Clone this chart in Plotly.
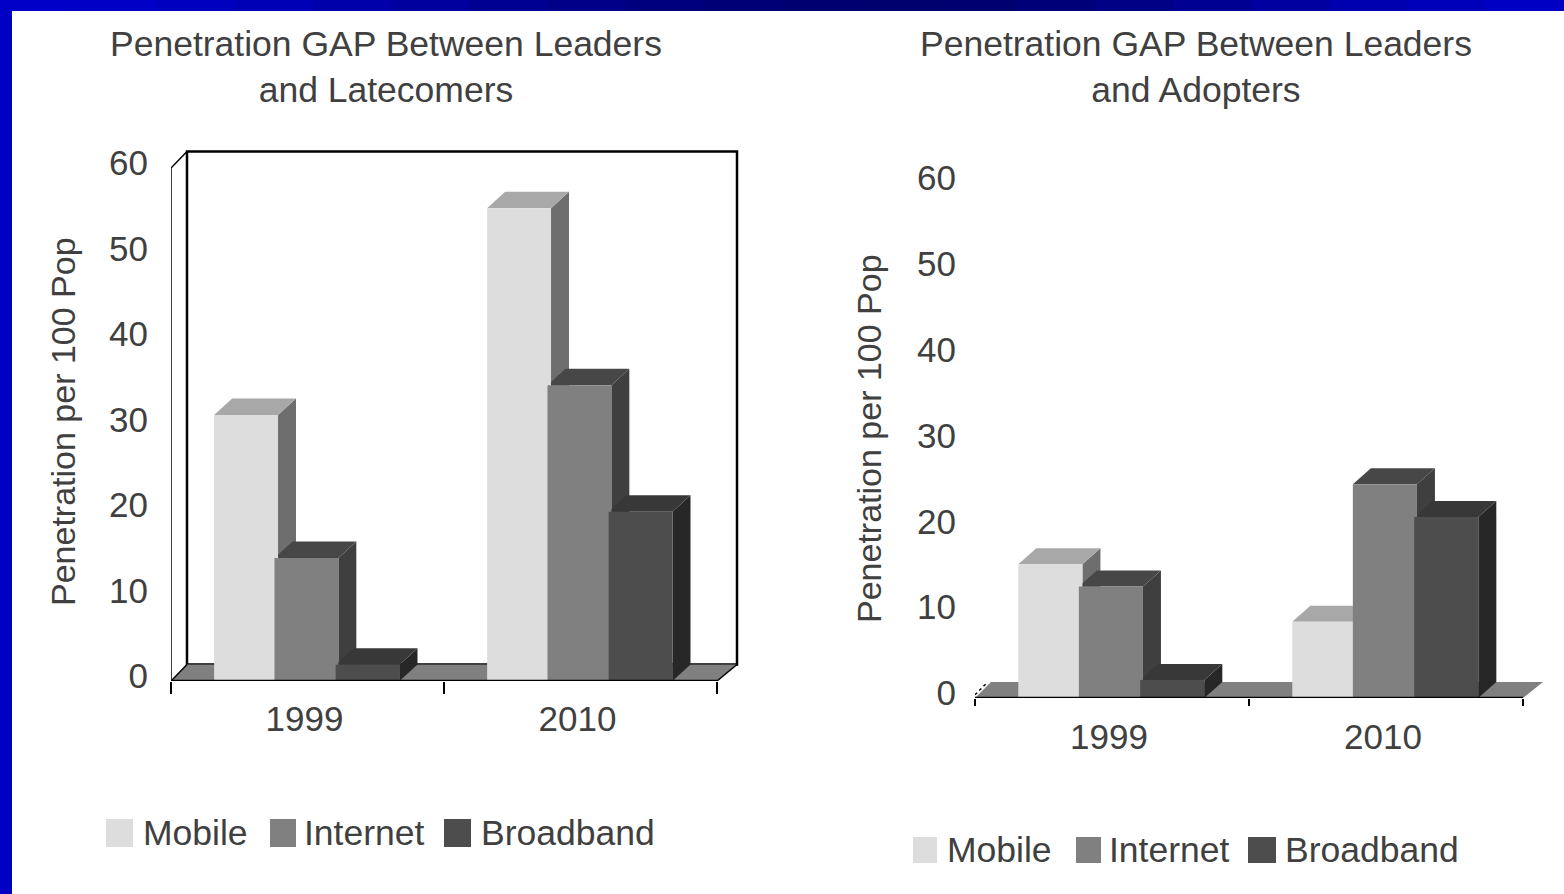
import plotly.graph_objects as go

W, H = 1564, 894
YEARS = ["1999", "2010"]
SERIES = ["Mobile", "Internet", "Broadband"]
LEFT_MOBILE = [31.1, 55.3]
LEFT_INTERNET = [14.4, 34.6]
LEFT_BROADBAND = [1.9, 19.8]
RIGHT_MOBILE = [15.6, 8.9]
RIGHT_INTERNET = [13.0, 24.9]
RIGHT_BROADBAND = [2.1, 21.1]
Y_TICKS = [0, 10, 20, 30, 40, 50, 60]
TITLE_LEFT = "Penetration GAP Between Leaders<br>and Latecomers"
TITLE_RIGHT = "Penetration GAP Between Leaders<br>and Adopters"
Y_TITLE = "Penetration per 100 Pop"

FRONT = ["#DDDDDD", "#808080", "#4D4D4D"]
SIDE = ["#6E6E6E", "#3F3F3F", "#272727"]
TOP = ["#A8A8A8", "#474747", "#383838"]
FLOOR = "#808080"
TEXT = "#404040"
FONT = "Liberation Sans"
OFFSETS = [0.158, 0.379, 0.603]
BAR_W = 0.234

fig = go.Figure()
shapes, annotations = [], []


def px(x):
    return x / W


def py(y):
    return 1 - y / H


def chart(n, vals, x0, y0, unit_x, unit_y, dx_px, dy_px, wall, title, title_cx, ytitle_pos,
          legend_swatches, legend_text_x, legend_y, swatch_h, right_edge, top_edge, tlen,
          x_standoff, y_standoff):
    xa = "x" if n == 1 else f"x{n}"
    ya = "y" if n == 1 else f"y{n}"
    xkey = "xaxis" if n == 1 else f"xaxis{n}"
    ykey = "yaxis" if n == 1 else f"yaxis{n}"
    dx, dy = dx_px / unit_x, dy_px / unit_y
    wl, wr = 16 / unit_x, 20 / unit_x
    xmax = (right_edge - x0) / unit_x
    ymax = (y0 - top_edge) / unit_y

    def poly(pts, color, line=None):
        d = "M" + " L".join(f"{a:.4f},{b:.4f}" for a, b in pts) + " Z"
        shapes.append(dict(type="path", xref=xa, yref=ya, path=d, fillcolor=color, layer="below",
                           line=dict(width=0) if line is None else line))

    top60 = Y_TICKS[-1]
    if wall:
        poly([(wl, dy), (2 + wr, dy), (2 + wr, top60 + dy), (wl, top60 + dy)], "#FFFFFF",
             dict(color="#000000", width=2.5))
    poly([(0, 0), (2, 0), (2 + wr, dy), (wl, dy)], FLOOR)

    for s, series in enumerate(vals):
        for c, v in enumerate(series):
            xl = c + OFFSETS[s]
            xr = xl + BAR_W
            poly([(xr, 0), (xr + dx, dy), (xr + dx, v + dy), (xr, v)], SIDE[s])
            poly([(xl, v), (xr, v), (xr + dx, v + dy), (xl + dx, v + dy)], TOP[s])
        fig.add_trace(go.Bar(
            x=[c + 0.5 for c in range(len(YEARS))], y=series, name=SERIES[s], xaxis=xa, yaxis=ya,
            width=BAR_W, offset=[c + OFFSETS[s] - (c + 0.5) for c in range(len(YEARS))],
            marker=dict(color=FRONT[s], line=dict(width=0)), showlegend=False, cliponaxis=False,
        ))

    line = dict(color="#000000", width=2.5)
    fig.add_trace(go.Scatter(x=[0, 2], y=[0, 0], mode="lines", line=line, xaxis=xa, yaxis=ya,
                             showlegend=False, hoverinfo="skip", cliponaxis=False))
    if wall:
        thin = dict(color="#000000", width=1.5)
        fig.add_trace(go.Scatter(x=[0, 0, wl], y=[0, top60, top60 + dy], mode="lines", line=thin,
                                 xaxis=xa, yaxis=ya, showlegend=False, hoverinfo="skip", cliponaxis=False))
        fig.add_trace(go.Scatter(x=[0, wl], y=[0, dy], mode="lines", line=thin,
                                 xaxis=xa, yaxis=ya, showlegend=False, hoverinfo="skip", cliponaxis=False))
        fig.add_trace(go.Scatter(x=[2, 2 + wr], y=[0, dy], mode="lines", line=thin,
                                 xaxis=xa, yaxis=ya, showlegend=False, hoverinfo="skip", cliponaxis=False))
    else:
        fig.add_trace(go.Scatter(x=[0, wl * 0.8], y=[dy * 0.2, dy], mode="lines",
                                 line=dict(color="#000000", width=1.5, dash="3px,3px"),
                                 xaxis=xa, yaxis=ya, showlegend=False, hoverinfo="skip", cliponaxis=False))

    fig.layout[xkey] = dict(
        domain=[px(x0), px(right_edge)], range=[0, xmax], anchor=ya,
        tickmode="array", tickvals=[0.5, 1.5], ticktext=YEARS, ticks="", showgrid=False, zeroline=False,
        showline=False, ticklabelshift=-3, ticklabelstandoff=x_standoff,
        tickfont=dict(family=FONT, size=35, color=TEXT),
        minor=dict(tickmode="array", tickvals=[0, 1, 2], ticks="outside", ticklen=tlen, tickwidth=2,
                   tickcolor="#000000", showgrid=False),
    )
    fig.layout[ykey] = dict(
        domain=[py(y0), py(top_edge)], range=[0, ymax], anchor=xa,
        tickmode="array", tickvals=Y_TICKS, ticks="", showgrid=False, zeroline=False, showline=False,
        ticklabelshift=-5, ticklabelstandoff=y_standoff,
        tickfont=dict(family=FONT, size=35, color=TEXT),
    )

    annotations.append(dict(text=title, xref="paper", yref="paper", x=px(title_cx), y=py(67), showarrow=False,
                            xanchor="center", yanchor="middle", align="center",
                            font=dict(family=FONT, size=35.5, color=TEXT)))
    annotations.append(dict(text=Y_TITLE, xref="paper", yref="paper", x=px(ytitle_pos[0]), y=py(ytitle_pos[1]),
                            textangle=-90, showarrow=False, xanchor="center", yanchor="middle",
                            font=dict(family=FONT, size=34, color=TEXT)))
    for i, name in enumerate(SERIES):
        sx0, sx1 = legend_swatches[i]
        shapes.append(dict(type="rect", xref="paper", yref="paper", x0=px(sx0), x1=px(sx1),
                           y0=py(legend_y + swatch_h / 2), y1=py(legend_y - swatch_h / 2),
                           fillcolor=FRONT[i], line=dict(width=0)))
        annotations.append(dict(text=name, xref="paper", yref="paper", x=px(legend_text_x[i]), y=py(legend_y),
                                showarrow=False, xanchor="left", yanchor="middle",
                                font=dict(family=FONT, size=35.5, color=TEXT)))


chart(1, [LEFT_MOBILE, LEFT_INTERNET, LEFT_BROADBAND], 171, 681, 273, 8.55, 18, 16.5, True,
      TITLE_LEFT, 386, (63, 422), [(106, 133), (270, 296), (444, 471)], [141, 302, 479], 833, 28, 745, 146, 12,
      14, 22)
chart(2, [RIGHT_MOBILE, RIGHT_INTERNET, RIGHT_BROADBAND], 975, 698, 274, 8.58, 18, 16, False,
      TITLE_RIGHT, 1196, (869, 439), [(913, 937), (1076, 1101), (1248, 1276)], [945, 1107, 1283], 850, 26, 1550, 160, 7,
      15, 18)

# blue slide frame: band colour stops read left to right, one per 80 px
BAND_BLUE = [200, 198, 192, 182, 170, 158, 146, 136, 126, 118, 112, 110, 112, 120, 132,
             146, 160, 174, 186, 196]
for i, b in enumerate(BAND_BLUE):
    sx = i * W / len(BAND_BLUE)
    shapes.append(dict(type="rect", xref="paper", yref="paper", x0=px(sx), x1=px(sx + W / len(BAND_BLUE) + 1),
                       y0=py(11), y1=1, fillcolor=f"rgb(0,0,{b})", line=dict(width=0)))
shapes.append(dict(type="rect", xref="paper", yref="paper", x0=0, x1=px(12), y0=0, y1=py(11),
                   fillcolor="#0000C4", line=dict(width=0)))

fig.update_layout(
    width=W, height=H, autosize=False, margin=dict(l=0, r=0, t=0, b=0, pad=0, autoexpand=False),
    paper_bgcolor="#FFFFFF", plot_bgcolor="rgba(0,0,0,0)", barmode="overlay", showlegend=False,
    shapes=shapes, annotations=annotations, font=dict(family=FONT, color=TEXT),
)
fig.write_html("out.html", config=dict(displayModeBar=False),
               post_script="document.body.style.margin='0';")
